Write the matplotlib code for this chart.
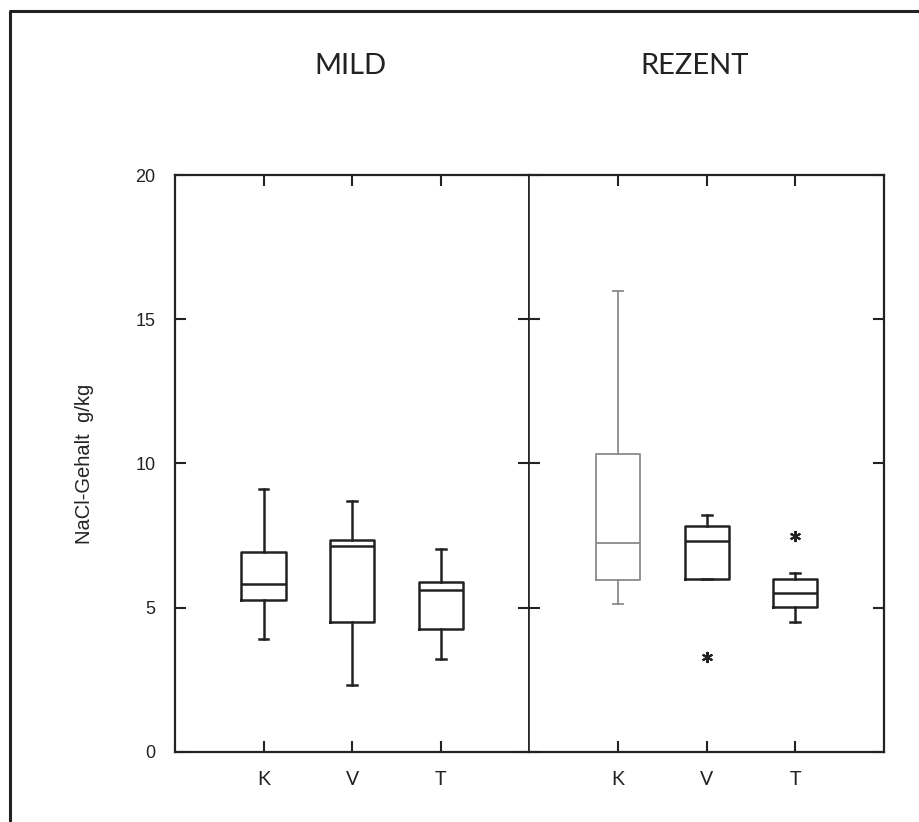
import matplotlib
matplotlib.use("Agg")
import matplotlib.pyplot as plt
from matplotlib import font_manager
from matplotlib.lines import Line2D

# values (NaCl g/kg)
groups = ["K", "V", "T"]
panels = ["MILD", "REZENT"]

mild_whislo = [3.93, 2.32, 3.22]
mild_q1 = [5.27, 4.52, 4.26]
mild_med = [5.81, 7.13, 5.62]
mild_q3 = [6.93, 7.34, 5.89]
mild_whishi = [9.10, 8.71, 7.04]
mild_fliers = [[], [], []]

rezent_whislo = [5.13, 6.00, 4.52]
rezent_q1 = [5.96, 6.00, 5.04]
rezent_med = [7.23, 7.32, 5.50]
rezent_q3 = [10.34, 7.82, 5.98]
rezent_whishi = [15.98, 8.21, 6.19]
rezent_fliers = [[], [3.30], [7.50]]

y_ticks = [0, 5, 10, 15, 20]

available = {f.name for f in font_manager.fontManager.ttflist}
thin = "Lato" if "Lato" in available else "DejaVu Sans"
plain = "Liberation Sans"


def make_stats(whislo, q1, med, q3, whishi, fliers):
    stats = []
    for i in range(len(groups)):
        stats.append(dict(whislo=whislo[i], q1=q1[i], med=med[i],
                          q3=q3[i], whishi=whishi[i], fliers=fliers[i]))
    return stats


fig = plt.figure(figsize=(9.19, 8.22), dpi=100)
ax1 = fig.add_axes([0.1904, 0.0852, 0.3857, 0.7019])
ax2 = fig.add_axes([0.5761, 0.0852, 0.3857, 0.7019])

data = [
    make_stats(mild_whislo, mild_q1, mild_med, mild_q3, mild_whishi, mild_fliers),
    make_stats(rezent_whislo, rezent_q1, rezent_med, rezent_q3, rezent_whishi, rezent_fliers),
]

for k, (ax, stats) in enumerate(zip([ax1, ax2], data)):
    for i, st in enumerate(stats):
        col = "#8a8a8a" if (k == 1 and i == 0) else "#222222"
        lw = 1.3 if (k == 1 and i == 0) else 1.8
        ax.bxp([st], positions=[i + 1], widths=0.5, showfliers=True,
               boxprops=dict(color=col, linewidth=lw),
               whiskerprops=dict(color=col, linewidth=lw),
               capprops=dict(color=col, linewidth=lw),
               medianprops=dict(color=col, linewidth=lw),
               flierprops=dict(marker=(6, 2, 0), markersize=8, markeredgewidth=1.5,
                               markeredgecolor="#222222", linestyle="none"),
               capwidths=0.11)
    ax.set_xlim(0, 4)
    ax.set_ylim(0, 20)
    ax.set_xticks([1, 2, 3])
    ax.set_xticklabels(groups, fontsize=14, family=thin)
    ax.set_yticks(y_ticks)
    ax.tick_params(direction="in", length=8, width=1.5, top=True, right=True,
                   colors="#222222", pad=14)
    for s in ax.spines.values():
        s.set_linewidth(1.6)
        s.set_color("#222222")

ax1.set_yticklabels([str(v) for v in y_ticks], fontsize=13, family=plain)
ax1.tick_params(axis="y", pad=14)
ax2.tick_params(labelleft=False)
ax2.spines["left"].set_linewidth(1.2)
ax1.spines["right"].set_linewidth(1.2)

fig.text(85 / 919, 1 - 464 / 822, "NaCl-Gehalt  g/kg", rotation=90,
         ha="center", va="center", fontsize=14.5, family=plain, color="#222222")

fig.text(350 / 919, 1 - 66 / 822, panels[0], ha="center", va="center",
         fontsize=21, family=thin, color="#222222")
fig.text(695 / 919, 1 - 66 / 822, panels[1], ha="center", va="center",
         fontsize=21, family=thin, color="#222222")

# outer frame (top and left edges visible)
fig.add_artist(Line2D([10 / 919, 10 / 919, 1.0], [0.0, 1 - 11 / 822, 1 - 11 / 822],
                      transform=fig.transFigure, color="#222222", linewidth=2.2))

fig.savefig("out.png", dpi=100)
